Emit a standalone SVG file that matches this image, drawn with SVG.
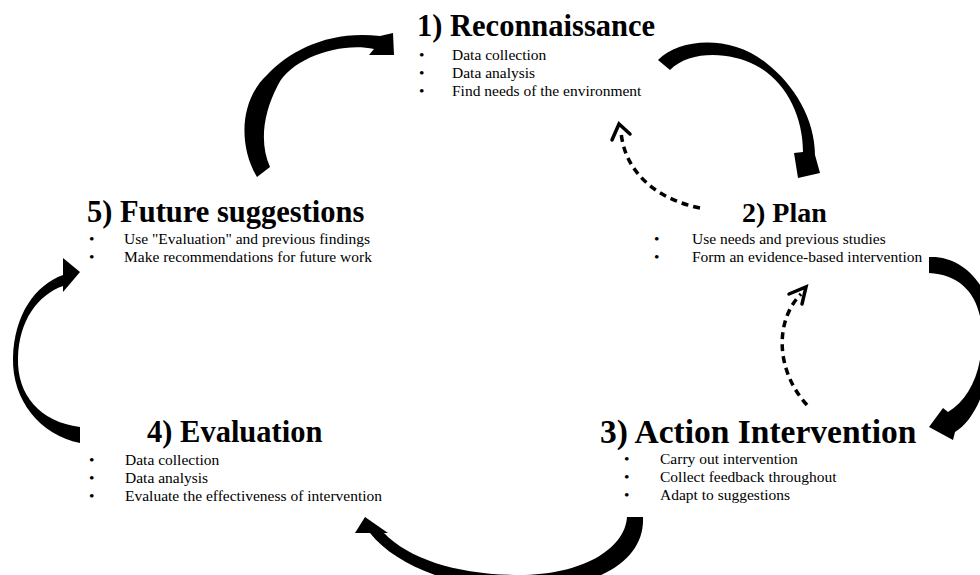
<svg xmlns="http://www.w3.org/2000/svg" width="980" height="575" viewBox="0 0 980 575">
<style>
text{font-family:'Liberation Serif','Times New Roman','DejaVu Serif',serif;fill:#000}
.h{font-weight:bold;font-size:30.5px}
.t{font-size:15.5px}
.arr{fill:#000;stroke:none}
.dash{fill:none;stroke:#000;stroke-width:3.5;stroke-dasharray:7 5}
.chev{fill:none;stroke:#000;stroke-width:3.5;stroke-linecap:round;stroke-linejoin:miter}
</style>
<rect width="980" height="575" fill="#fff"/>
<g id="connectors">
<path id="a51" class="arr" d="M257,177 C238,145 240,100 267,75 C290,50 330,30 380,36 L393,33 L394,55 L369,55 L374,49 C340,42 292,58 278,85 C262,115 260,145 270,167 Z"/>
<path id="a12" class="arr" d="M658,60 C680,38 730,35 765,62 C795,85 815,120 815,155 L820,173 L798,178 L794,153 L803,152 C803,115 785,80 755,65 C730,52 690,50 670,70 Z"/>
<path id="a23" class="arr" d="M929,257 C965,255 995,290 993,335 C991,385 975,420 955,432 L953,440 L929,427 L943,408 L948,412 C968,400 981,375 982,340 C983,300 965,275 929,273 Z"/>
<path id="a34" class="arr" d="M643,517 C645,560 600,590 510,592 C450,585 395,565 370,533 L355,533 L365,517 L388,533 L384,533 C410,560 460,575 520,575 C580,575 625,550 627,517 Z"/>
<path id="a45" class="arr" d="M80,443 C40,435 12,400 13,358 C14,315 35,285 63,275 L63,258 L80,272 L63,292 L63,286 C38,295 19,320 18,358 C17,395 40,422 80,427 Z"/>
<path id="d21" class="dash" d="M700,208 C660,200 625,175 621,132"/>
<path class="chev" d="M612,140 L619,124 L630,134"/>
<path id="d32" class="dash" d="M807,405 C775,370 775,320 801,294"/>
<path class="chev" d="M789,294 L806,287 L802,304"/>
</g>
<g id="node1">
<text class="h" x="417" y="36">1) Reconnaissance</text>
<text class="t" x="419" y="60">•</text><text class="t" x="452" y="60">Data collection</text>
<text class="t" x="419" y="78">•</text><text class="t" x="452" y="78">Data analysis</text>
<text class="t" x="419" y="96">•</text><text class="t" x="452" y="96">Find needs of the environment</text>
</g>
<g id="node2">
<text class="h" x="742" y="222" style="font-size:28px">2) Plan</text>
<text class="t" x="654" y="244">•</text><text class="t" x="692" y="244">Use needs and previous studies</text>
<text class="t" x="654" y="262">•</text><text class="t" x="692" y="262">Form an evidence-based intervention</text>
</g>
<g id="node3">
<text class="h" x="600" y="443" style="font-size:33.5px">3) Action Intervention</text>
<text class="t" x="624" y="464">•</text><text class="t" x="660" y="464">Carry out intervention</text>
<text class="t" x="624" y="482">•</text><text class="t" x="660" y="482">Collect feedback throughout</text>
<text class="t" x="624" y="500">•</text><text class="t" x="660" y="500">Adapt to suggestions</text>
</g>
<g id="node4">
<text class="h" x="147" y="442">4) Evaluation</text>
<text class="t" x="89" y="465">•</text><text class="t" x="125" y="465">Data collection</text>
<text class="t" x="89" y="483">•</text><text class="t" x="125" y="483">Data analysis</text>
<text class="t" x="89" y="501">•</text><text class="t" x="125" y="501">Evaluate the effectiveness of intervention</text>
</g>
<g id="node5">
<text class="h" x="87" y="222">5) Future suggestions</text>
<text class="t" x="89" y="244">•</text><text class="t" x="124" y="244">Use "Evaluation" and previous findings</text>
<text class="t" x="89" y="262">•</text><text class="t" x="124" y="262">Make recommendations for future work</text>
</g>
</svg>
